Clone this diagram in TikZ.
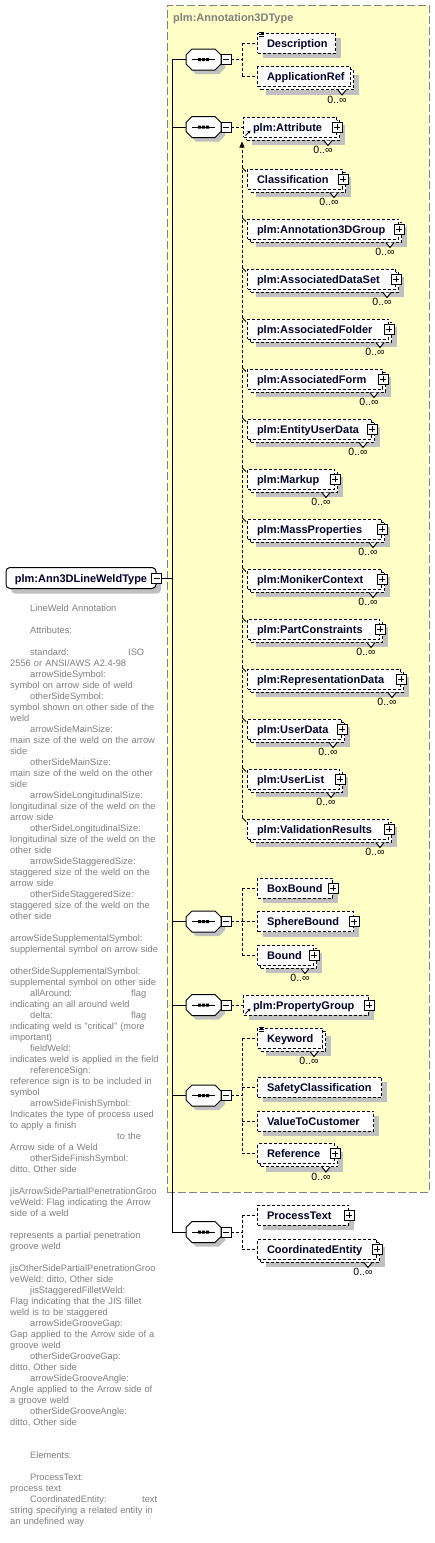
\documentclass[tikz,border=0pt]{standalone}
\usepackage{fontspec}
\setmainfont{Liberation Sans}
\usetikzlibrary{shadows,arrows.meta}
\frenchspacing

\definecolor{ybg}{RGB}{255,255,200}
\definecolor{ybd}{RGB}{128,128,128}
\definecolor{shd}{RGB}{192,192,192}
\definecolor{nm}{RGB}{0,0,40}
\definecolor{doccol}{RGB}{128,128,128}

\tikzset{
  dl/.style={line width=1pt, dash pattern=on 3pt off 2pt},
  sl/.style={line width=1pt, solid},
  namefont/.style={font=\bfseries\fontsize{11}{13}\selectfont},
  elbox/.style={namefont, draw, line width=1pt, dash pattern=on 3pt off 2pt, fill=white,
    minimum height=20pt, inner ysep=0pt, inner xsep=9.5pt, anchor=west, text=nm,
    text height=8pt, text depth=0pt},
  shad/.style={drop shadow={shadow xshift=5pt, shadow yshift=-5pt, fill=shd, opacity=1}},
  pmbox/.style={draw, solid, line width=0.8pt, fill=white, minimum width=10pt, minimum height=10pt, inner sep=0pt},
  plusbox/.style={pmbox, path picture={\draw[line width=0.9pt]
      ([xshift=-3pt]path picture bounding box.center) -- ([xshift=3pt]path picture bounding box.center)
      ([yshift=-3pt]path picture bounding box.center) -- ([yshift=3pt]path picture bounding box.center);}},
  minusbox/.style={pmbox, path picture={\draw[line width=0.9pt]
      ([xshift=-3pt]path picture bounding box.center) -- ([xshift=3pt]path picture bounding box.center);}},
  mult/.style={font=\fontsize{10.5}{12}\selectfont, inner sep=0pt},
  doc/.style={font=\fontsize{9.3}{11}\selectfont, text=doccol, align=left, inner sep=0pt, text width=175pt},
  ctbox/.style={draw=ybd, fill=ybg, line width=1pt, dash pattern=on 8pt off 3pt, inner sep=0pt},
  ctitle/.style={namefont, text=ybd, inner sep=0pt},
  rootbox/.style={namefont, draw, solid, line width=1pt, rounded corners=4pt, fill=white, text=nm,
    minimum width=150pt, minimum height=21pt, inner sep=0pt, shad, text height=8pt, text depth=0pt},
  tick/.style={line width=0.8pt},
}

% octagon sequence compositor
\newcommand\myseq[3]{%
  \begin{scope}[shift={(#2,#3)}]
    \fill[shd] (-7.5,-6.5) -- (15.5,-6.5) -- (21.5,-0.5) -- (21.5,8.5) -- (15.5,14.5) -- (-7.5,14.5) -- (-13.5,8.5) -- (-13.5,-0.5) -- cycle;
    \draw[sl, fill=white] (-11.5,-10.5) -- (11.5,-10.5) -- (17.5,-4.5) -- (17.5,4.5) -- (11.5,10.5) -- (-11.5,10.5) -- (-17.5,4.5) -- (-17.5,-4.5) -- cycle;
    \draw[line width=1pt] (-11.5,0) -- (11.5,0);
    \fill (-5.5,-1.5) rectangle (-2.5,1.5) (-1.5,-1.5) rectangle (1.5,1.5) (2.5,-1.5) rectangle (5.5,1.5);
    \node[minimum width=35pt, minimum height=21pt, inner sep=0pt] (#1) at (0,0) {};
    \node[minusbox] (#1m) at (22.5,0) {};
  \end{scope}}

% single element
\newcommand\myel[5]{%
  \pgfmathsetmacro\elw{#3-#2}%
  \pgfmathsetmacro\elt{#3-#2-19}%
  \node[elbox, shad, minimum width=\elw pt] (#1) at (#2,#4) {\hbox to \elt pt{#5\hfil}};}

% repeated element
\newcommand\mymel[5]{%
  \pgfmathsetmacro\elw{#3-#2}%
  \pgfmathsetmacro\elt{#3-#2-19}%
  \node[elbox, shad, minimum width=\elw pt] (#1b) at (#2+3,#4+3) {};
  \node[elbox, minimum width=\elw pt] (#1) at (#2,#4) {\hbox to \elt pt{#5\hfil}};
  \draw[sl, fill=white] ([xshift=-16pt]#1b.south east) -- ++(4,5) -- ++(4,-5);
  \node[mult] (#1n) at (#3-13,#4+23) {0..∞};}

\newcommand\myplus[1]{\node[plusbox] (#1p) at (#1.east) {};}
\newcommand\mydocic[1]{%
  \draw[line width=0.7pt] ([shift={(2pt,0.5pt)}]#1.north west) -- ++(5,0)
    ([shift={(2pt,-1.5pt)}]#1.north west) -- ++(5,0)
    ([shift={(2pt,-3.5pt)}]#1.north west) -- ++(5,0);}
\newcommand\myrefic[1]{%
  \draw[line width=1pt, -{Stealth[length=3pt,width=3.5pt]}] ([shift={(2.5pt,2pt)}]#1.south west) -- ++(5,-5);}

\begin{document}
\begin{tikzpicture}[x=1pt,y=-1pt]
\useasboundingbox (0,0) rectangle (435,1543);
\fill[white] (0,0) rectangle (435,1543);

% complex type container
\node[ctbox, minimum width=262pt, minimum height=1187pt] (ct) at (298,598.5) {};
\node[ctitle, anchor=west] (ctt) at (173,19) {plm:Annotation3DType};

% root
\node[rootbox] (root) at (81,578) {plm:Ann3DLineWeldType};
\node[minusbox] (rootm) at (root.east) {};

% sequences
\myseq{s1}{203.5}{59.5}
\myseq{s2}{203.5}{127}
\myseq{s3}{203.5}{921.5}
\myseq{s4}{203.5}{1005}
\myseq{s5}{203.5}{1095.5}
\myseq{s6}{203.5}{1232}

% elements
\myel{desc}{257}{335}{43}{Description}
\mydocic{desc}
\mymel{appref}{257}{350}{76.5}{ApplicationRef}

\mymel{attr}{243}{336}{127}{plm:Attribute}
\myplus{attr}
\myrefic{attr}

\mymel{classif}{247}{342}{179}{Classification}\myplus{classif}
\mymel{a3dg}{247}{398}{229}{plm:Annotation3DGroup}\myplus{a3dg}
\mymel{ads}{247}{395}{279}{plm:AssociatedDataSet}\myplus{ads}
\mymel{afold}{247}{388}{329}{plm:AssociatedFolder}\myplus{afold}
\mymel{aform}{247}{382}{379}{plm:AssociatedForm}\myplus{aform}
\mymel{eud}{247}{371}{429}{plm:EntityUserData}\myplus{eud}
\mymel{markup}{247}{334}{479}{plm:Markup}\myplus{markup}
\mymel{massp}{247}{381}{529}{plm:MassProperties}\myplus{massp}
\mymel{monik}{247}{381}{579}{plm:MonikerContext}\myplus{monik}
\mymel{partc}{247}{379}{629}{plm:PartConstraints}\myplus{partc}
\mymel{repd}{247}{400}{679}{plm:RepresentationData}\myplus{repd}
\mymel{userd}{247}{341}{729}{plm:UserData}\myplus{userd}
\mymel{userl}{247}{339}{779}{plm:UserList}\myplus{userl}
\mymel{valres}{247}{388}{829}{plm:ValidationResults}\myplus{valres}

\myel{boxb}{257}{332}{888}{BoxBound}\myplus{boxb}
\myel{sphb}{257}{353}{921.5}{SphereBound}\myplus{sphb}
\mymel{bound}{257}{313}{955}{Bound}\myplus{bound}

\myel{propg}{243}{368}{1005}{plm:PropertyGroup}\myplus{propg}
\myrefic{propg}

\mymel{keyw}{257}{322}{1038}{Keyword}
\mydocic{keyw}
\myel{safety}{257}{381}{1087}{SafetyClassification}
\myel{vtc}{257}{373}{1121}{ValueToCustomer}
\mymel{refer}{257}{334}{1153.5}{Reference}\myplus{refer}

\myel{proct}{257}{348}{1215}{ProcessText}\myplus{proct}
\mymel{coord}{257}{376}{1249}{CoordinatedEntity}\myplus{coord}

% trunk
\coordinate (trunk) at (172,0);
\coordinate (br) at (242,0);
\draw[sl] (rootm.east) -- (trunk |- rootm.east);
\draw[sl] (trunk |- s1.west) -- (trunk |- s6.west);
\foreach \s in {s1,s2,s3,s4,s5,s6} \draw[sl] (trunk |- \s.west) -- (\s.west);

% seq 1
\draw[dl] (s1m.east) -- (br |- s1m.east);
\draw[dl] (br |- desc.west) -- (br |- appref.west);
\foreach \c in {desc,appref} \draw[dl] (br |- \c.west) -- (\c.west);

% seq 2 + substitution group
\draw[dl] (s2m.east) -- (attr.west);
\path (attr.south west) ++(-1,4) coordinate (sg);
\path (valres.north west) ++(-5,-1) coordinate (sgb);
\draw[dl, -{Triangle[length=6pt,width=5pt]}] (sgb) -- (sg);
\foreach \m in {classif,a3dg,ads,afold,aform,eud,markup,massp,monik,partc,repd,userd,userl,valres}
  \draw[tick] (\m.north west) ++(-5,-1) -- ++(4,4);

% seq 3
\draw[dl] (s3m.east) -- (br |- s3m.east);
\draw[dl] (br |- boxb.west) -- (br |- bound.west);
\foreach \c in {boxb,sphb,bound} \draw[dl] (br |- \c.west) -- (\c.west);

% seq 4
\draw[dl] (s4m.east) -- (propg.west);

% seq 5
\draw[dl] (s5m.east) -- (br |- s5m.east);
\draw[dl] (br |- keyw.west) -- (br |- refer.west);
\foreach \c in {keyw,safety,vtc,refer} \draw[dl] (br |- \c.west) -- (\c.west);

% seq 6
\draw[dl] (s6m.east) -- (br |- s6m.east);
\draw[dl] (br |- proct.west) -- (br |- coord.west);
\foreach \c in {proct,coord} \draw[dl] (br |- \c.west) -- (\c.west);

% documentation
\node[doc, anchor=north west] (doc) at (10,604.5) {%
\hspace*{20pt}LineWeld Annotation\\
\mbox{}\\
\hspace*{20pt}Attributes:\\
\mbox{}\\
\hspace*{20pt}\makebox[98pt][l]{standard:}ISO\\
2556 or ANSI/AWS A2.4-98\\
\hspace*{20pt}arrowSideSymbol:\\
symbol on arrow side of weld\\
\hspace*{20pt}otherSideSymbol:\\
symbol shown on other side of the\\
weld\\
\hspace*{20pt}arrowSideMainSize:\\
main size of the weld on the arrow\\
side\\
\hspace*{20pt}otherSideMainSize:\\
main size of the weld on the other\\
side\\
\hspace*{20pt}arrowSideLongitudinalSize:\\
longitudinal size of the weld on the\\
arrow side\\
\hspace*{20pt}otherSideLongitudinalSize:\\
longitudinal size of the weld on the\\
other side\\
\hspace*{20pt}arrowSideStaggeredSize:\\
staggered size of the weld on the\\
arrow side\\
\hspace*{20pt}otherSideStaggeredSize:\\
staggered size of the weld on the\\
other side\\
\mbox{}\\
arrowSideSupplementalSymbol:\\
supplemental symbol on arrow side\\
\mbox{}\\
otherSideSupplementalSymbol:\\
supplemental symbol on other side\\
\hspace*{20pt}\makebox[101pt][l]{allAround:}flag\\
indicating an all around weld\\
\hspace*{20pt}\makebox[101pt][l]{delta:}flag\\
indicating weld is "critical" (more\\
important)\\
\hspace*{20pt}fieldWeld:\\
indicates weld is applied in the field\\
\hspace*{20pt}referenceSign:\\
reference sign is to be included in\\
symbol\\
\hspace*{20pt}arrowSideFinishSymbol:\\
Indicates the type of process used\\
to apply a finish\\
\hspace*{107pt}to the\\
Arrow side of a Weld\\
\hspace*{20pt}otherSideFinishSymbol:\\
ditto, Other side\\
\mbox{}\\
jisArrowSidePartialPenetrationGroo\\
veWeld: Flag indicating the Arrow\\
side of a weld\\
\mbox{}\\
represents a partial penetration\\
groove weld\\
\mbox{}\\
jisOtherSidePartialPenetrationGroo\\
veWeld: ditto, Other side\\
\hspace*{20pt}jisStaggeredFilletWeld:\\
Flag indicating that the JIS fillet\\
weld is to be staggered\\
\hspace*{20pt}arrowSideGrooveGap:\\
Gap applied to the Arrow side of a\\
groove weld\\
\hspace*{20pt}otherSideGrooveGap:\\
ditto, Other side\\
\hspace*{20pt}arrowSideGrooveAngle:\\
Angle applied to the Arrow side of\\
a groove weld\\
\hspace*{20pt}otherSideGrooveAngle:\\
ditto, Other side\\
\mbox{}\\
\mbox{}\\
\hspace*{20pt}Elements:\\
\mbox{}\\
\hspace*{20pt}ProcessText:\\
process text\\
\hspace*{20pt}\makebox[112pt][l]{CoordinatedEntity:}text\\
string specifying a related entity in\\
an undefined way};
\end{tikzpicture}
\end{document}
